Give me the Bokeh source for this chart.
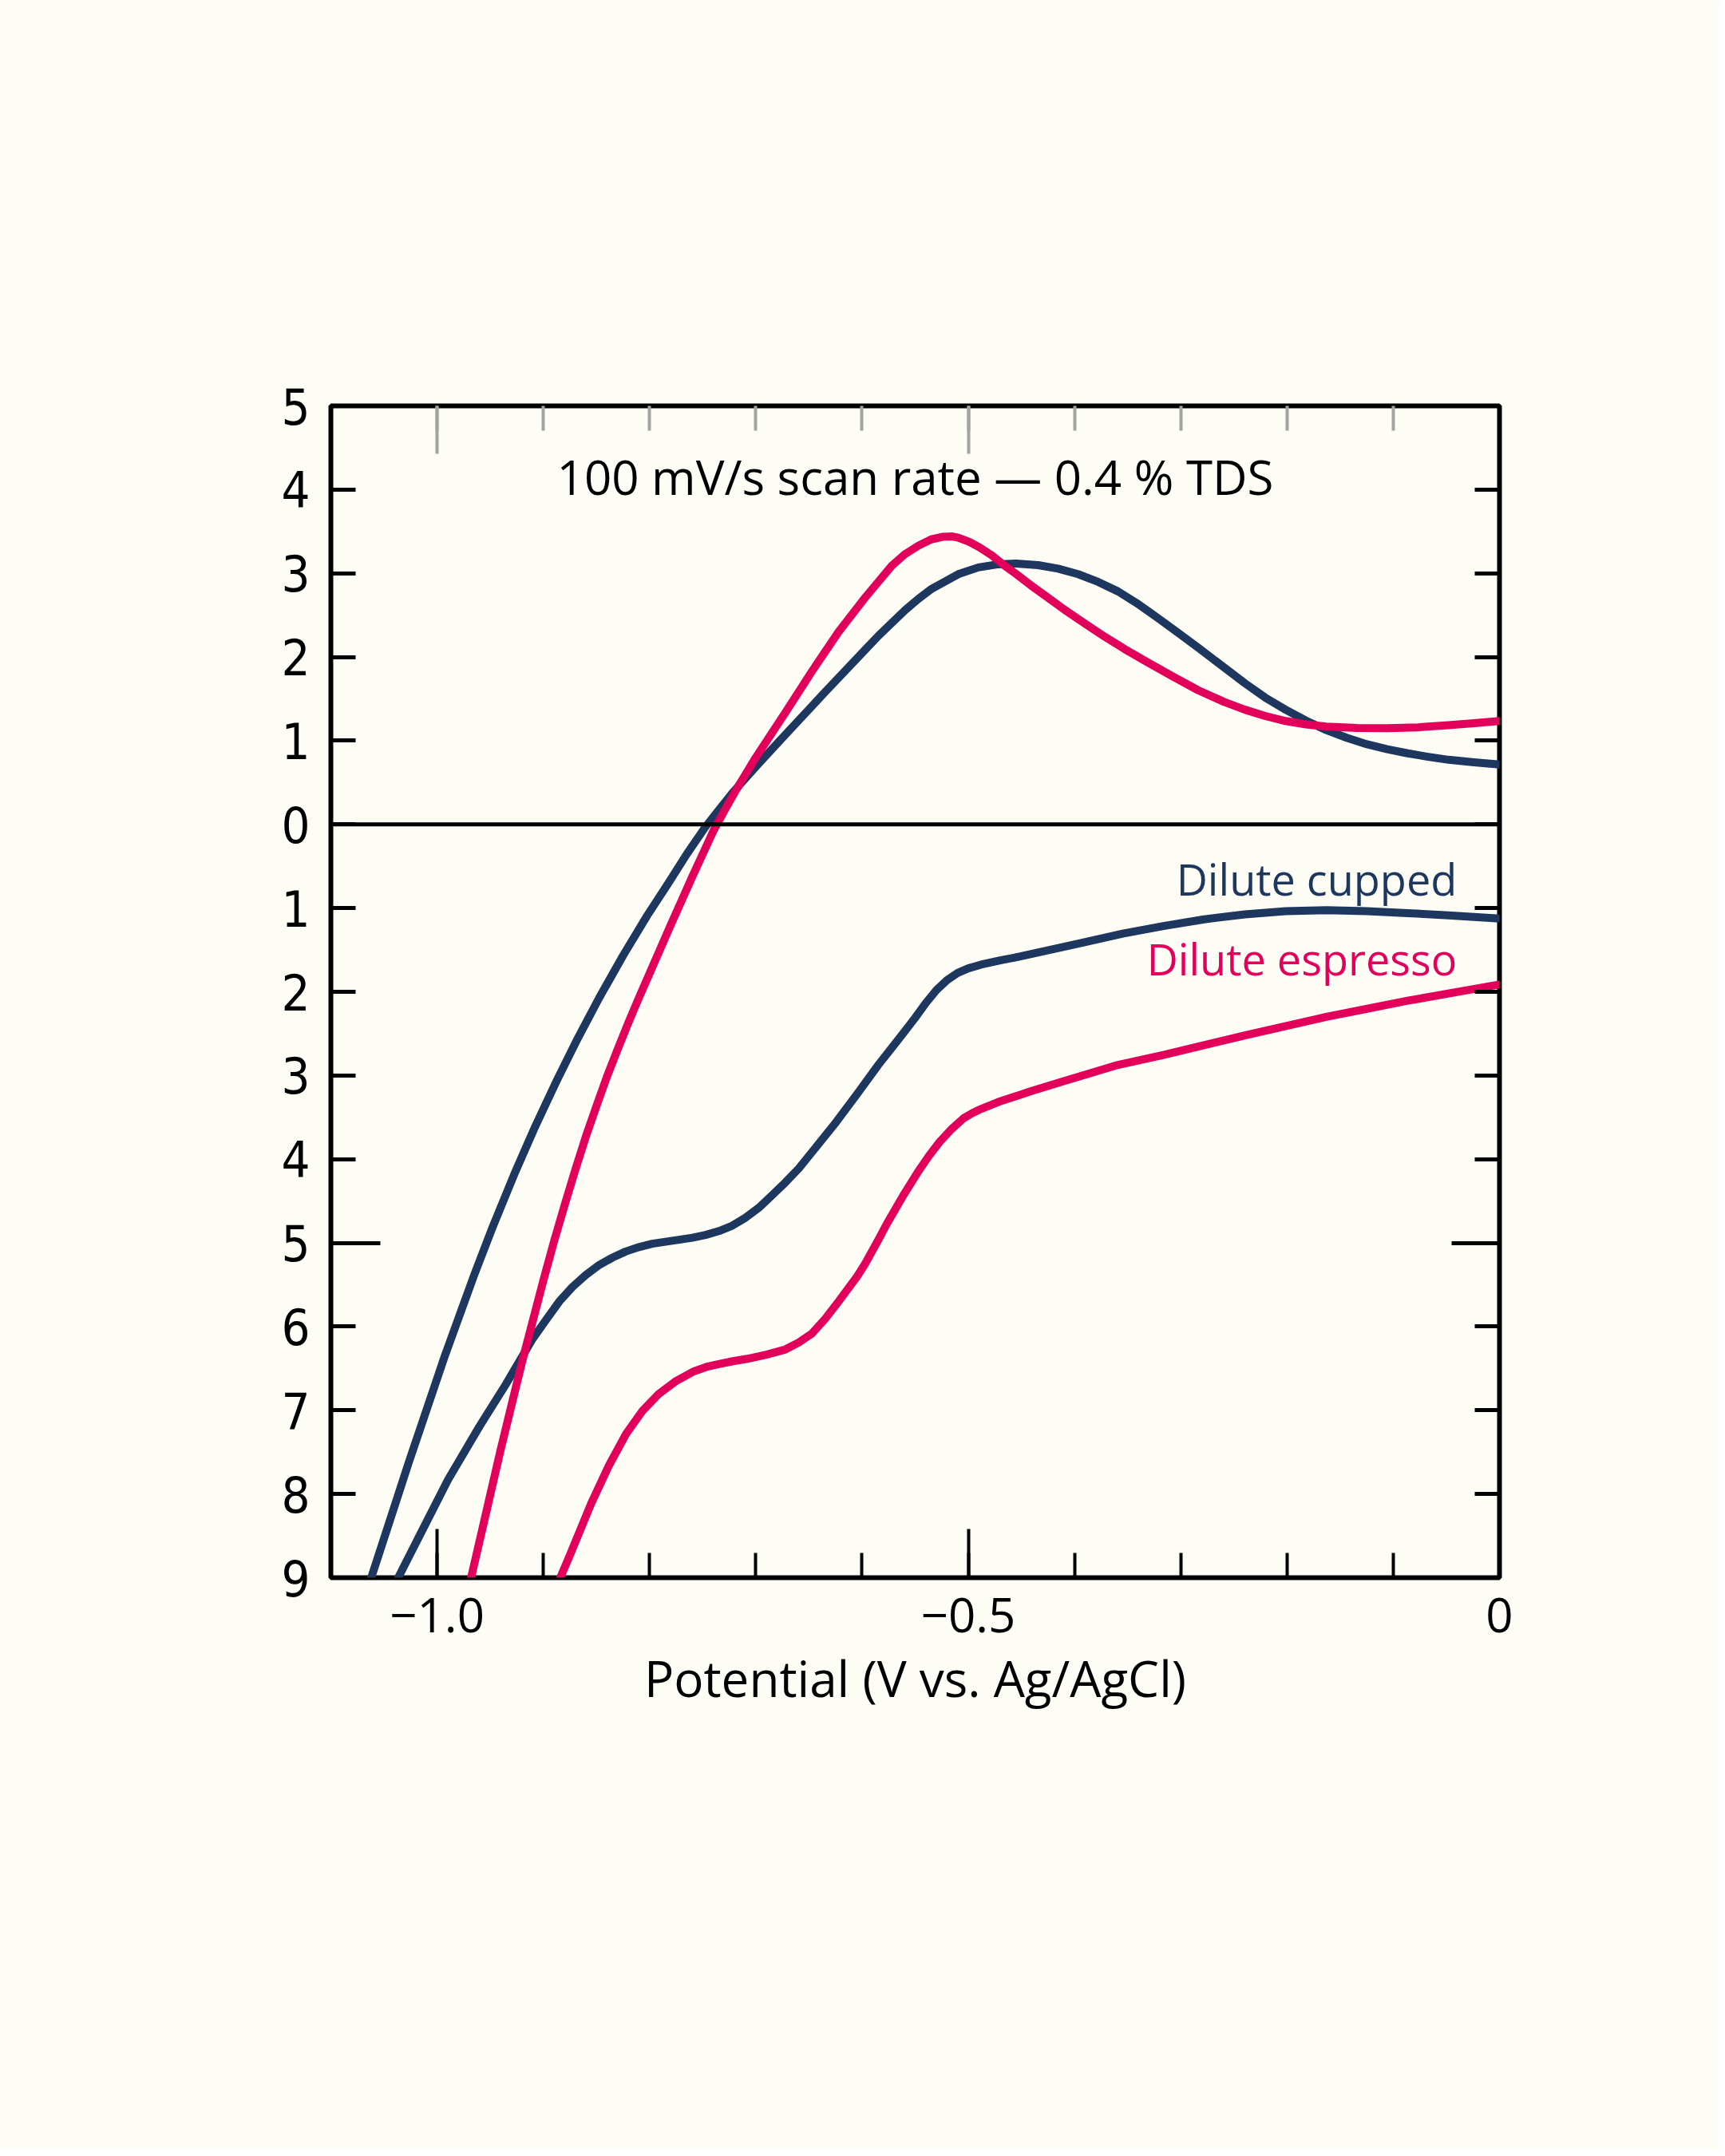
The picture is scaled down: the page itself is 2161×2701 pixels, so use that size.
from bokeh.plotting import figure
from bokeh.models import Range1d, LinearAxis, FixedTicker, Span, Label
from bokeh.embed import file_html
from bokeh.resources import INLINE

# ---------------- data ----------------
cupped_fwd_x = [-1.062, -1.0266, -0.993, -0.9652, -0.9477, -0.9276, -0.9076, -0.8876, -0.8675,
                -0.8475, -0.8249, -0.8024, -0.782, -0.7648, -0.7476, -0.7223, -0.6972, -0.6722,
                -0.6346, -0.5971, -0.5845, -0.5595, -0.547, -0.5344, -0.5094, -0.4906, -0.4718,
                -0.455, -0.4343, -0.4155, -0.3967, -0.3779, -0.3591, -0.3404, -0.3216, -0.3028,
                -0.284, -0.2618, -0.2396, -0.2205, -0.2013, -0.1822, -0.163, -0.1439, -0.1247,
                -0.1056, -0.0864, -0.0672, -0.048, -0.024, 0.0]
cupped_fwd_y = [-0.900, -0.762, -0.636, -0.5387, -0.481, -0.4187, -0.3607, -0.3067, -0.2554,
                -0.2074, -0.1566, -0.1093, -0.0695, -0.0351, -0.0033, 0.0372, 0.0728, 0.1073,
                0.1584, 0.2087, 0.2255, 0.256, 0.2695, 0.2815, 0.299, 0.307, 0.3108,
                0.3117, 0.3097, 0.3055, 0.299, 0.2898, 0.2784, 0.2635, 0.2466, 0.2292,
                0.2116, 0.19, 0.1686, 0.1515, 0.137, 0.124, 0.1127, 0.1035, 0.0957,
                0.0898, 0.0849, 0.0808, 0.0772, 0.0742, 0.0715]

cupped_rev_x = [-1.0366, -1.013, -0.9897, -0.9602, -0.9351, -0.9101, -0.8975, -0.885, -0.8725,
                -0.86, -0.8475, -0.835, -0.8225, -0.81, -0.7975, -0.7849, -0.7723, -0.7598,
                -0.7473, -0.7348, -0.7223, -0.7098, -0.6972, -0.6847, -0.672, -0.6596, -0.642,
                -0.624, -0.604, -0.5845, -0.573, -0.5615, -0.55, -0.54, -0.53, -0.52, -0.51,
                -0.5, -0.488, -0.47, -0.4518, -0.4313, -0.393, -0.3546, -0.3163, -0.278, -0.2396,
                -0.2013, -0.163, -0.1247, -0.0864, -0.048, -0.024, 0.0]
cupped_rev_y = [-0.900, -0.841, -0.783, -0.7194, -0.6686, -0.6146, -0.592, -0.570, -0.5525,
                -0.5383, -0.5265, -0.5176, -0.5103, -0.505, -0.501, -0.4986, -0.4962, -0.4938,
                -0.4905, -0.4859, -0.4795, -0.470, -0.458, -0.443, -0.4275, -0.4111, -0.3835,
                -0.355, -0.321, -0.287, -0.2685, -0.250, -0.231, -0.2135, -0.198, -0.186, -0.1775,
                -0.172, -0.1675, -0.1625, -0.158, -0.1523, -0.1415, -0.1305, -0.1215, -0.1134, -0.1075,
                -0.1037, -0.1025, -0.1037, -0.106, -0.1087, -0.1105, -0.1125]

espresso_fwd_x = [-0.968, -0.955, -0.940, -0.930, -0.920, -0.910, -0.900, -0.890, -0.880,
                  -0.870, -0.860, -0.850, -0.840, -0.830, -0.820, -0.810, -0.800, -0.790,
                  -0.780, -0.770, -0.760, -0.750, -0.740, -0.730, -0.720, -0.710, -0.700,
                  -0.6722, -0.6471, -0.6221, -0.5971, -0.572, -0.560, -0.547, -0.535, -0.5244,
                  -0.515, -0.5094, -0.499, -0.4893, -0.478, -0.4668, -0.4543, -0.4418, -0.4254,
                  -0.409, -0.3903, -0.3717, -0.3529, -0.334, -0.309, -0.284, -0.2596, -0.2396,
                  -0.2205, -0.2013, -0.1822, -0.163, -0.134, -0.1053, -0.0767, -0.048, -0.024, 0.0]
espresso_fwd_y = [-0.900, -0.8285, -0.746, -0.694, -0.642, -0.5935, -0.545, -0.4985, -0.455,
                  -0.413, -0.373, -0.3365, -0.301, -0.2685, -0.237, -0.207, -0.178, -0.149,
                  -0.120, -0.0915, -0.063, -0.0355, -0.008, 0.0155, 0.038, 0.059, 0.080,
                  0.1335, 0.183, 0.230, 0.271, 0.309, 0.3225, 0.333, 0.3405, 0.3435,
                  0.344, 0.3425, 0.3375, 0.3308, 0.3215, 0.3101, 0.2985, 0.2863, 0.2712,
                  0.2561, 0.240, 0.2243, 0.2095, 0.1957, 0.1778, 0.1605, 0.1465, 0.137,
                  0.1295, 0.1235, 0.1195, 0.1168, 0.1153, 0.115, 0.116, 0.1185, 0.121, 0.1235]

espresso_rev_x = [-0.884, -0.875, -0.855, -0.8385, -0.822, -0.8069, -0.7918, -0.775, -0.7582,
                  -0.7465, -0.7348, -0.7214, -0.708, -0.6901, -0.6722, -0.6596, -0.6471, -0.6346,
                  -0.6221, -0.6046, -0.5971, -0.5845, -0.577, -0.562, -0.547, -0.537, -0.527,
                  -0.5157, -0.5044, -0.4962, -0.4881, -0.4718, -0.4404, -0.409, -0.359, -0.3163,
                  -0.2396, -0.163, -0.0864, 0.0]
espresso_rev_y = [-0.900, -0.873, -0.8115, -0.7665, -0.728, -0.701, -0.681, -0.665, -0.6534,
                  -0.6482, -0.6447, -0.6413, -0.6385, -0.6335, -0.6273, -0.619, -0.6082, -0.5905,
                  -0.570, -0.540, -0.525, -0.496, -0.478, -0.445, -0.4144, -0.396, -0.3794,
                  -0.364, -0.351, -0.345, -0.340, -0.3317, -0.3185, -0.3063, -0.2873, -0.2755,
                  -0.252, -0.230, -0.2107, -0.1913]

x_major_ticks = [-1.0, -0.5, 0.0]
x_major_labels = ["\u22121.0", "\u22120.5", "0"]
x_minor_ticks = [-1.0, -0.9, -0.8, -0.7, -0.6, -0.5, -0.4, -0.3, -0.2, -0.1]
x_top_major_ticks = [-1.0, -0.5]

y_ticks = [0.5, 0.4, 0.3, 0.2, 0.1, 0.0, -0.1, -0.2, -0.3, -0.4, -0.5, -0.6, -0.7, -0.8, -0.9]
y_tick_labels = ["5", "4", "3", "2", "1", "0", "1", "2", "3", "4", "5", "6", "7", "8", "9"]
y_long_ticks = [-0.5]

title_text = "100 mV/s scan rate \u2014 0.4 % TDS"
x_label_text = "Potential (V vs. Ag/AgCl)"
series_names = ["Dilute cupped", "Dilute espresso"]

# ---------------- styles ----------------
BG = "#fdfcf5"
NAVY = "#1e375f"
PINK = "#e2005a"
FONT = "Open Sans"
YFONT = "DejaVu Sans Condensed"
LW = 10

p = figure(x_range=Range1d(-1.1, 0.0), y_range=Range1d(-0.9, 0.5),
           frame_width=1464, frame_height=1468,
           min_border_left=414, min_border_top=508, min_border_right=275, min_border_bottom=717,
           x_axis_location=None, y_axis_location=None,
           output_backend="svg", toolbar_location=None,
           background_fill_color=BG, border_fill_color=BG)
p.outline_line_color = "black"
p.outline_line_width = 6
p.grid.visible = False

# bottom axis
xb = LinearAxis(ticker=FixedTicker(ticks=x_major_ticks, minor_ticks=x_minor_ticks),
                major_label_overrides=dict(zip(x_major_ticks, x_major_labels)),
                axis_label=x_label_text)
xb.axis_line_color = None
xb.major_tick_in = 61
xb.major_tick_out = 0
xb.minor_tick_in = 31
xb.minor_tick_out = 0
xb.major_tick_line_width = 4
xb.minor_tick_line_width = 4
xb.major_tick_line_color = "black"
xb.minor_tick_line_color = "black"
xb.major_label_standoff = 25
xb.major_label_text_font = FONT
xb.major_label_text_font_size = "60px"
xb.major_label_text_color = "black"
xb.axis_label_text_font = FONT
xb.axis_label_text_font_size = "62px"
xb.axis_label_text_font_style = "normal"
xb.axis_label_text_color = "black"
xb.axis_label_standoff = 12
p.add_layout(xb, "below")

# top axis (grey ticks, no labels)
xt = LinearAxis(ticker=FixedTicker(ticks=x_top_major_ticks, minor_ticks=x_minor_ticks))
xt.axis_line_color = None
xt.major_tick_in = 60
xt.major_tick_out = 0
xt.minor_tick_in = 31
xt.minor_tick_out = 0
xt.major_tick_line_width = 4
xt.minor_tick_line_width = 4
xt.major_tick_line_color = "#a3a3a3"
xt.minor_tick_line_color = "#a3a3a3"
xt.major_label_text_color = None
p.add_layout(xt, "above")

# left axis
yl = LinearAxis(ticker=FixedTicker(ticks=y_ticks, minor_ticks=y_long_ticks),
                major_label_overrides=dict(zip(y_ticks, y_tick_labels)))
yl.axis_line_color = None
yl.major_tick_in = 31
yl.major_tick_out = 0
yl.minor_tick_in = 62
yl.minor_tick_out = 0
yl.major_tick_line_width = 5
yl.minor_tick_line_width = 5
yl.major_tick_line_color = "black"
yl.minor_tick_line_color = "black"
yl.major_label_standoff = 26
yl.major_label_text_font = YFONT
yl.major_label_text_font_size = "63px"
yl.major_label_text_color = "black"
p.add_layout(yl, "left")

# right axis (ticks only)
yr = LinearAxis(ticker=FixedTicker(ticks=y_ticks, minor_ticks=y_long_ticks))
yr.axis_line_color = None
yr.major_tick_in = 31
yr.major_tick_out = 0
yr.minor_tick_in = 60
yr.minor_tick_out = 0
yr.major_tick_line_width = 5
yr.minor_tick_line_width = 5
yr.major_tick_line_color = "black"
yr.minor_tick_line_color = "black"
yr.major_label_text_color = None
p.add_layout(yr, "right")

# zero line
p.add_layout(Span(location=0, dimension="width", line_color="black", line_width=5))

# curves
for xs, ys, col in [(cupped_fwd_x, cupped_fwd_y, NAVY), (cupped_rev_x, cupped_rev_y, NAVY),
                    (espresso_fwd_x, espresso_fwd_y, PINK), (espresso_rev_x, espresso_rev_y, PINK)]:
    p.line(xs, ys, line_color=col, line_width=LW, line_join="round", line_cap="round")

# title inside the frame
p.add_layout(Label(x=-0.55, y=0.416, text=title_text, text_align="center",
                   text_baseline="alphabetic", text_font=FONT, text_font_size="60px",
                   text_color="black"))

# series labels
p.add_layout(Label(x=-0.040, y=-0.065, text=series_names[0], text_align="right",
                   text_baseline="alphabetic", text_font=FONT, text_font_size="54px",
                   text_color=NAVY))
p.add_layout(Label(x=-0.040, y=-0.160, text=series_names[1], text_align="right",
                   text_baseline="alphabetic", text_font=FONT, text_font_size="54px",
                   text_color=PINK))

html = file_html(p, INLINE)
html = html.replace("<body>", '<body style="background-color:%s;">' % BG, 1)
open("out.html", "w").write(html)
